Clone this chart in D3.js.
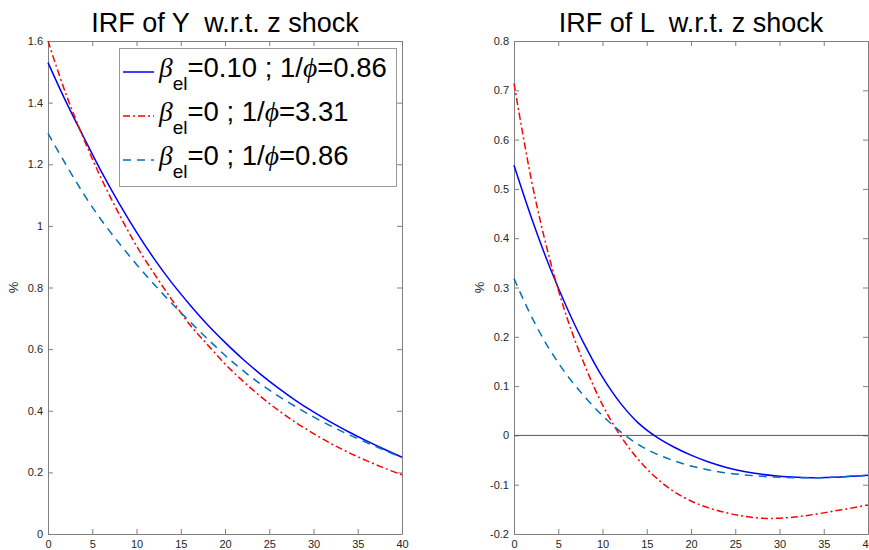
<!DOCTYPE html>
<html>
<head>
<meta charset="utf-8">
<script src="https://cdn.jsdelivr.net/npm/d3@7"></script>
<style>
  body { margin: 0; background: #fff; }
  text { font-family: "Liberation Sans", Arial, Helvetica, sans-serif; }
</style>
</head>
<body>
<script>
const periods = [0, 2, 4, 6, 8, 10, 12, 14, 16, 18, 20, 22, 24, 26, 28, 30, 32, 34, 36, 38, 40];

// IRF of Y (%)
const yBase   = [1.530, 1.405, 1.290, 1.178, 1.075, 0.980, 0.893, 0.815, 0.745, 0.680, 0.622,
                 0.568, 0.519, 0.474, 0.433, 0.396, 0.362, 0.331, 0.302, 0.275, 0.249];
const yFrisch = [1.600, 1.430, 1.285, 1.155, 1.040, 0.935, 0.845, 0.760, 0.680, 0.615, 0.552,
                 0.497, 0.447, 0.402, 0.362, 0.326, 0.293, 0.264, 0.238, 0.214, 0.192];
const yNoEl   = [1.300, 1.200, 1.105, 1.020, 0.945, 0.875, 0.810, 0.748, 0.690, 0.634, 0.580,
                 0.531, 0.487, 0.448, 0.413, 0.380, 0.350, 0.322, 0.297, 0.272, 0.248];

// IRF of L (%)
const lBase   = [0.548, 0.440, 0.343, 0.258, 0.183, 0.118, 0.066, 0.026, -0.002, -0.023, -0.040,
                 -0.054, -0.065, -0.073, -0.079, -0.083, -0.085, -0.086, -0.085, -0.083, -0.081];
const lFrisch = [0.714, 0.515, 0.360, 0.238, 0.142, 0.062, 0.000, -0.048, -0.085, -0.113, -0.133,
                 -0.147, -0.157, -0.164, -0.168, -0.168, -0.165, -0.160, -0.154, -0.148, -0.141];
const lNoEl   = [0.318, 0.240, 0.175, 0.122, 0.078, 0.040, 0.008, -0.018, -0.037, -0.051, -0.062,
                 -0.070, -0.076, -0.080, -0.083, -0.085, -0.086, -0.086, -0.085, -0.083, -0.081];

const xTicks = [0, 5, 10, 15, 20, 25, 30, 35, 40];
const yTicksY = [0, 0.2, 0.4, 0.6, 0.8, 1, 1.2, 1.4, 1.6];
const yTicksL = [-0.2, -0.1, 0, 0.1, 0.2, 0.3, 0.4, 0.5, 0.6, 0.7, 0.8];

const legendBeta = ["0.10", "0", "0"];
const legendPhi  = ["0.86", "3.31", "0.86"];

// line styles for the three cases
const styles = [
  { color: "#0000ff", dash: null },
  { color: "#ff0000", dash: "7,3,2,3" },
  { color: "#0072bd", dash: "8,6" }
];

const W = 869, H = 550;
const svg = d3.select("body").append("svg").attr("width", W).attr("height", H);

const plotTop = 41, plotBottom = 534;
const axisColor = "#808080", textColor = "#262626";
const greekFont = "'Liberation Serif', 'DejaVu Serif', serif";

function drawPanel(cfg) {
  const x = d3.scaleLinear().domain([0, 40]).range([cfg.left, cfg.right]);
  const y = d3.scaleLinear().domain(cfg.yDomain).range([plotBottom, plotTop]);
  const g = svg.append("g");
  const fmt = d => String(+d.toFixed(1));

  const axes = [
    [d3.axisBottom(x).tickValues(xTicks).tickFormat(d3.format("d")).tickPadding(6), `translate(0,${plotBottom})`],
    [d3.axisTop(x).tickValues(xTicks).tickFormat(""), `translate(0,${plotTop})`],
    [d3.axisLeft(y).tickValues(cfg.yTicks).tickFormat(fmt).tickPadding(5), `translate(${cfg.left},0)`],
    [d3.axisRight(y).tickValues(cfg.yTicks).tickFormat(""), `translate(${cfg.right},0)`]
  ];
  axes.forEach(([ax, tr]) => {
    const a = g.append("g").attr("transform", tr)
      .call(ax.tickSizeInner(-5).tickSizeOuter(0));
    a.select(".domain").attr("stroke", axisColor);
    a.selectAll(".tick line").attr("stroke", axisColor);
    a.selectAll(".tick text").attr("fill", textColor)
      .style("font-size", "11px").style("font-family", "'Liberation Sans', Arial, sans-serif");
  });

  if (cfg.zeroLine) {
    g.append("line")
      .attr("x1", cfg.left).attr("x2", cfg.right)
      .attr("y1", y(0)).attr("y2", y(0))
      .attr("stroke", "#555").attr("stroke-width", 1);
  }

  const line = d3.line()
    .x((d, i) => x(periods[i]))
    .y(d => y(d))
    .curve(d3.curveCatmullRom.alpha(0.5));

  cfg.series.forEach((s, i) => {
    g.append("path")
      .attr("d", line(s))
      .attr("fill", "none")
      .attr("stroke", styles[i].color)
      .attr("stroke-width", 1.5)
      .attr("stroke-dasharray", styles[i].dash);
  });

  g.append("text")
    .attr("x", (cfg.left + cfg.right) / 2).attr("y", 32)
    .attr("text-anchor", "middle")
    .style("font-size", "27px").style("white-space", "pre")
    .attr("fill", "#000")
    .text(cfg.title);

  g.append("text")
    .attr("transform", `translate(${cfg.left - 30},${(plotTop + plotBottom) / 2}) rotate(-90)`)
    .attr("text-anchor", "middle")
    .style("font-size", "13px")
    .attr("fill", textColor)
    .text("%");
}

drawPanel({ left: 48, right: 402, yDomain: [0, 1.6], yTicks: yTicksY,
            series: [yBase, yFrisch, yNoEl], title: "IRF of Y  w.r.t. z shock" });
drawPanel({ left: 514, right: 868, yDomain: [-0.2, 0.8], yTicks: yTicksL, zeroLine: true,
            series: [lBase, lFrisch, lNoEl], title: "IRF of L  w.r.t. z shock" });

// legend (in the Y panel)
const leg = svg.append("g");
leg.append("rect")
  .attr("x", 119.5).attr("y", 48.5).attr("width", 277).attr("height", 138)
  .attr("fill", "#fff").attr("stroke", "#999").attr("stroke-width", 1);

legendBeta.forEach((b, i) => {
  const cy = 72 + i * 44;
  leg.append("line")
    .attr("x1", 123).attr("x2", 154).attr("y1", cy).attr("y2", cy)
    .attr("stroke", styles[i].color).attr("stroke-width", 1.5)
    .attr("stroke-dasharray", styles[i].dash);
  const t = leg.append("text").attr("x", 159).attr("y", cy + 5)
    .style("font-size", "27.5px").attr("fill", "#000");
  t.append("tspan").style("font-family", greekFont)
    .style("font-style", "italic").text("β");
  t.append("tspan").style("font-size", "19px").attr("dy", 13).text("el");
  t.append("tspan").attr("dy", -13).text(`=${b} ; 1/`);
  t.append("tspan").style("font-family", greekFont)
    .style("font-style", "italic").text("ϕ");
  t.append("tspan").text(`=${legendPhi[i]}`);
});
</script>
</body>
</html>
